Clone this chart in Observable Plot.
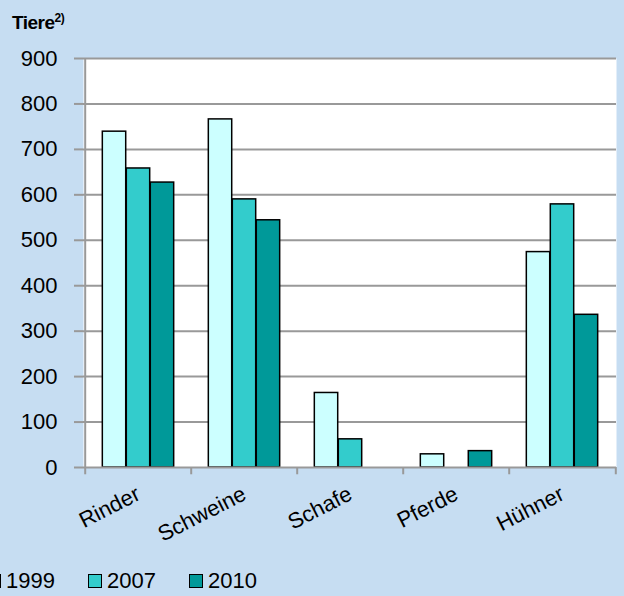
<!DOCTYPE html>
<html>
<head>
<meta charset="utf-8">
<script src="https://cdn.jsdelivr.net/npm/d3@7"></script>
<script src="https://cdn.jsdelivr.net/npm/@observablehq/plot@0.6"></script>
<style>
  html, body { margin: 0; padding: 0; }
  body { width: 624px; height: 596px; background: #c6ddf2; position: relative; overflow: hidden;
         font-family: "Liberation Sans", Arial, sans-serif; }
  #title { position: absolute; left: 12px; top: 11px; font-size: 19px; font-weight: bold; color: #000; letter-spacing: -0.5px; }
  #title sup { font-size: 12px; }
  #chart { position: absolute; left: 0; top: 38px; }
  #legend { position: absolute; left: 0; top: 566px; width: 624px; height: 30px; }
  .item { position: absolute; top: 0; display: flex; align-items: center; font-size: 22px; height: 30px; }
  .sw { width: 12px; height: 12px; border: 1.5px solid #000; margin-right: 5px; }
</style>
</head>
<body>
<div id="title">Tiere<sup>2)</sup></div>
<div id="chart"></div>
<div id="legend"></div>
<script>
const categories = ["Rinder", "Schweine", "Schafe", "Pferde", "Hühner"];
const years = ["1999", "2007", "2010"];
const values1999 = [739, 766, 164, 29, 474];
const values2007 = [658, 590, 62, null, 579];
const values2010 = [627, 544, null, 36, 336];
const colors = ["#ccffff", "#33cccc", "#009999"];
const yTicks = [0, 100, 200, 300, 400, 500, 600, 700, 800, 900];

const series = [values1999, values2007, values2010];

const W = 624, H = 528, mL = 83, mR = 8, mT = 20, mB = 99;
const bw = (W - mL - mR) / categories.length;   // band width
const groupFrac = 0.675;
const barW = bw * groupFrac / years.length;

const barMarks = series.map((vals, i) => {
  const rows = categories.map((c, j) => ({cat: c, v: vals[j]})).filter(d => d.v != null);
  return Plot.barY(rows, {
    x: "cat", y: "v", fill: colors[i], stroke: "#000", strokeWidth: 1.5,
    insetLeft: (bw - barW) / 2, insetRight: (bw - barW) / 2,
    dx: (i - 1) * barW
  });
});

const chart = Plot.plot({
  width: W, height: H,
  marginLeft: mL, marginRight: mR, marginTop: mT, marginBottom: mB,
  style: {background: "transparent", fontFamily: '"Liberation Sans", Arial, sans-serif'},
  x: {type: "band", domain: categories, padding: 0},
  y: {domain: [0, 900]},
  marks: [
    Plot.frame({fill: "white", stroke: null}),
    Plot.gridY(yTicks.filter(t => t > 0), {stroke: "#999", strokeOpacity: 1, strokeWidth: 2}),
    ...barMarks,
    Plot.ruleY([0], {stroke: "#999", strokeWidth: 2}),
    Plot.ruleX(categories, {x: d => d, dx: -bw / 2, y1: 0, y2: -16, stroke: "#999", strokeWidth: 2}),
    Plot.ruleX([categories[categories.length - 1]], {x: d => d, dx: bw / 2, y1: 0, y2: -16, stroke: "#999", strokeWidth: 2}),
    Plot.ruleX([categories[0]], {x: d => d, dx: -bw / 2, y1: 0, y2: 900, stroke: "#999", strokeWidth: 2}),
    Plot.axisY({ticks: yTicks, tickSize: 9, tickPadding: 17, stroke: "#999", strokeWidth: 2, fill: "#000", fontSize: 22, label: null, tickFormat: d => String(d)}),
    Plot.axisX({tickSize: 0, tickPadding: 25, tickRotate: -27, fill: "#000", fontSize: 22, label: null})
  ]
});
document.getElementById("chart").appendChild(chart);

const legend = document.getElementById("legend");
years.forEach((y, i) => {
  const item = document.createElement("div");
  item.className = "item";
  item.style.left = (-13 + i * 101) + "px";
  const sw = document.createElement("div");
  sw.className = "sw";
  sw.style.background = colors[i];
  const t = document.createElement("span");
  t.textContent = y;
  item.appendChild(sw);
  item.appendChild(t);
  legend.appendChild(item);
});
</script>
</body>
</html>
